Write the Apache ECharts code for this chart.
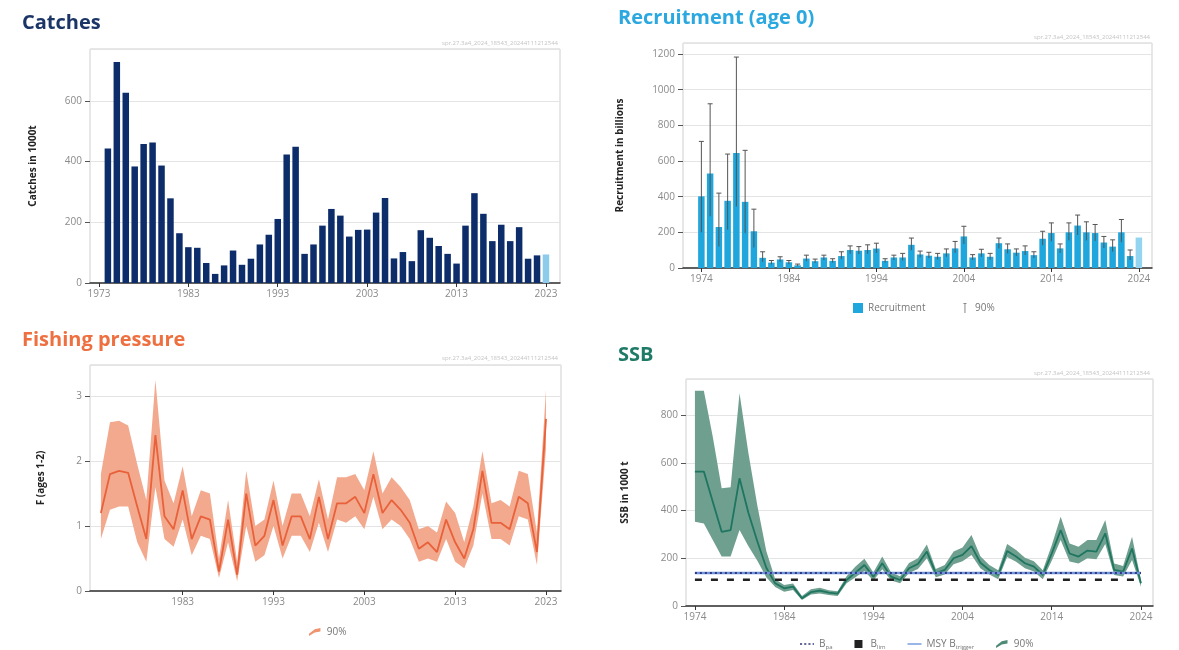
<!doctype html>
<html lang="en">
  <head>
    <meta charset="utf-8">
    <title>Sprat stock summary</title>
    <script src="https://cdn.jsdelivr.net/npm/echarts@6/dist/echarts.min.js"></script>
    <style>
      html, body {
        width: 100%;
        height: 100%;
        margin: 0;
        background: #fff;
      }

      #chart {
        width: 1179px;
        height: 650px;
      }
    </style>
  </head>
  <body>
    <div id="chart"></div>
    <script>
      // years
      const years = [1974, 1975, 1976, 1977, 1978, 1979, 1980, 1981, 1982, 1983,
        1984, 1985, 1986, 1987, 1988, 1989, 1990, 1991, 1992, 1993,
        1994, 1995, 1996, 1997, 1998, 1999, 2000, 2001, 2002, 2003,
        2004, 2005, 2006, 2007, 2008, 2009, 2010, 2011, 2012, 2013,
        2014, 2015, 2016, 2017, 2018, 2019, 2020, 2021, 2022, 2023, 2024];

      // catches in 1000 t, 1974-2023
      const catches = [443, 728, 627, 384, 458, 463, 387, 279, 164, 118,
        116, 66, 30, 58, 107, 60, 80, 127, 159, 211,
        423, 449, 96, 127, 189, 244, 222, 153, 175, 176,
        232, 280, 81, 102, 72, 174, 149, 122, 96, 64,
        189, 296, 228, 138, 192, 138, 184, 80, 91, 94];

      // recruitment in billions, 1974-2024 (90% interval up to 2023)
      const recruitment = [402, 530, 230, 377, 645, 371, 206, 57, 30, 48,
        32, 15, 53, 38, 59, 40, 67, 101, 97, 101,
        109, 40, 59, 59, 130, 76, 69, 63, 82, 110,
        177, 59, 82, 63, 139, 105, 86, 95, 72, 164,
        196, 110, 200, 238, 200, 196, 143, 120, 200, 67, 171];
      const recLow = [200, 290, 120, 215, 345, 196, 115, 35, 20, 35,
        22, 10, 38, 28, 45, 30, 50, 80, 78, 80,
        85, 30, 45, 42, 100, 60, 55, 48, 63, 85,
        135, 45, 63, 48, 110, 82, 68, 73, 56, 128,
        150, 85, 155, 185, 155, 152, 112, 92, 145, 45];
      const recHigh = [710, 921, 420, 639, 1183, 660, 330, 91, 42, 63,
        42, 22, 72, 50, 72, 52, 91, 124, 120, 130,
        139, 52, 72, 82, 168, 95, 88, 82, 107, 149,
        234, 75, 105, 82, 168, 135, 107, 124, 91, 206,
        253, 135, 253, 297, 259, 244, 177, 158, 272, 101];

      // fishing mortality F (ages 1-2), 1974-2023
      const fMean = [1.2, 1.8, 1.85, 1.82, 1.3, 0.8, 2.4, 1.15, 0.95, 1.55,
        0.8, 1.15, 1.1, 0.3, 1.1, 0.25, 1.5, 0.7, 0.85, 1.4,
        0.7, 1.15, 1.15, 0.8, 1.45, 0.8, 1.35, 1.35, 1.45, 1.2,
        1.8, 1.2, 1.4, 1.25, 1.05, 0.65, 0.75, 0.6, 1.1, 0.75,
        0.5, 0.95, 1.85, 1.05, 1.05, 0.95, 1.45, 1.35, 0.6, 2.65];
      const fLow = [0.8, 1.25, 1.3, 1.3, 0.75, 0.45, 1.6, 0.8, 0.68, 1.1,
        0.55, 0.85, 0.8, 0.2, 0.75, 0.15, 1.0, 0.45, 0.55, 1.0,
        0.5, 0.85, 0.85, 0.6, 1.05, 0.6, 1.1, 1.05, 1.15, 0.95,
        1.45, 0.95, 1.1, 1.0, 0.8, 0.45, 0.5, 0.45, 0.8, 0.45,
        0.35, 0.7, 1.5, 0.8, 0.8, 0.7, 1.15, 1.1, 0.4, 2.2];
      const fHigh = [1.8, 2.6, 2.62, 2.55, 1.95, 1.4, 3.25, 1.7, 1.35, 1.92,
        1.15, 1.55, 1.5, 0.5, 1.4, 0.45, 1.85, 1.0, 1.1, 1.7,
        1.0, 1.5, 1.5, 1.15, 1.72, 1.1, 1.75, 1.75, 1.8, 1.55,
        2.15, 1.5, 1.75, 1.6, 1.4, 0.95, 1.0, 0.9, 1.38, 1.2,
        0.75, 1.3, 2.15, 1.35, 1.4, 1.3, 1.85, 1.8, 0.9, 3.1];

      // spawning stock biomass in 1000 t, 1974-2024
      const ssb = [563, 563, 437, 311, 318, 535, 390, 270, 160, 95,
        74, 81, 32, 58, 64, 56, 52, 109, 140, 172,
        123, 179, 123, 109, 158, 176, 228, 137, 151, 200,
        214, 251, 181, 151, 130, 230, 207, 179, 165, 130,
        220, 318, 220, 207, 232, 228, 304, 151, 144, 241, 95];
      const ssbLow = [353, 346, 276, 207, 207, 318, 250, 190, 120, 80,
        60, 67, 25, 48, 52, 46, 42, 95, 120, 147,
        107, 154, 107, 95, 138, 155, 200, 120, 132, 175,
        188, 214, 158, 132, 112, 205, 185, 158, 145, 112,
        190, 276, 186, 178, 200, 196, 260, 130, 124, 193, 81];
      const ssbHigh = [902, 902, 709, 493, 497, 891, 640, 420, 230, 112,
        88, 94, 42, 70, 76, 66, 62, 125, 165, 198,
        140, 207, 140, 125, 180, 200, 258, 155, 172, 228,
        245, 297, 208, 172, 150, 260, 235, 202, 188, 150,
        255, 374, 262, 248, 276, 276, 360, 178, 168, 290, 109];

      // reference points
      const bpa = 138;
      const blim = 110;
      const msyBtrigger = 138;

      // tick labels
      const catchTicks = [1973, 1983, 1993, 2003, 2013, 2023];
      const recTicks = [1974, 1984, 1994, 2004, 2014, 2024];
      const fTicks = [1983, 1993, 2003, 2013, 2023];
      const ssbTicks = [1974, 1984, 1994, 2004, 2014, 2024];

      const FONT = '"Open Sans", "Noto Sans", sans-serif';
      const STAMP = 'spr.27.3a4_2024_18543_20244111212544';
      const BAND_ICON = 'path://M0,14 L10,6 L20,4 L20,10 L10,12 L0,18 Z';

      let chartDom = document.getElementById('chart');
      let chart = echarts.init(chartDom, null, {renderer: 'canvas'});

      function xAxisFor(gridIndex, min, max, ticks) {
        return {
          type: 'value',
          gridIndex: gridIndex,
          min: min,
          max: max,
          axisLine: {show: true, lineStyle: {color: '#333', width: 1.5}},
          axisTick: {show: true, customValues: ticks, length: 4, lineStyle: {color: '#333'}},
          axisLabel: {
            customValues: ticks,
            color: '#8a8a8a',
            fontSize: 10,
            fontFamily: FONT,
            margin: 6,
            formatter: (v) => String(v)
          },
          splitLine: {show: false}
        };
      }

      function yAxisFor(gridIndex, name, max, interval, nameGap) {
        return {
          type: 'value',
          gridIndex: gridIndex,
          min: 0,
          max: max,
          interval: interval,
          name: name,
          nameLocation: 'middle',
          nameGap: nameGap,
          nameTextStyle: {fontWeight: 'bold', fontSize: 10, color: '#222', fontFamily: FONT},
          axisLine: {show: false},
          axisTick: {show: true, length: 5, lineStyle: {color: '#555'}},
          axisLabel: {
            showMaxLabel: false,
            color: '#8a8a8a',
            fontSize: 10,
            fontFamily: FONT,
            margin: 8,
            formatter: (v) => String(v)
          },
          splitLine: {lineStyle: {color: '#e4e4e4'}}
        };
      }

      function stamp(right, top) {
        return {
          type: 'text',
          right: right,
          top: top,
          style: {text: STAMP, fill: '#c4c4c4', font: '6px ' + FONT}
        };
      }

      function title(text, left, top, color) {
        return {
          text: text,
          left: left,
          top: top,
          textStyle: {color: color, fontSize: 20, fontWeight: 'bold', fontFamily: FONT}
        };
      }

      // one polygon spanning the whole interval, drawn through the axes
      function bandSeries(name, axisIndex, xs, lo, hi, color) {
        return {
          type: 'custom',
          name: name,
          xAxisIndex: axisIndex,
          yAxisIndex: axisIndex,
          silent: true,
          z: 2,
          itemStyle: {color: color},
          data: [[xs[0], lo[0]]],
          renderItem: (params, api) => {
            const upper = xs.map((x, i) => api.coord([x, hi[i]]));
            const lower = xs.map((x, i) => api.coord([x, lo[i]])).reverse();
            return {
              type: 'polygon',
              shape: {points: upper.concat(lower)},
              style: {fill: color}
            };
          }
        };
      }

      const catchYears = years.slice(0, catches.length);
      const fYears = years.slice(0, fMean.length);

      const errorRows = recHigh.map((h, i) => [years[i], recLow[i], h]);

      const gridStyle = {show: true, borderColor: '#cfcfcf', borderWidth: 1, backgroundColor: '#fff'};

      let option = {
        animation: false,
        backgroundColor: '#fff',
        textStyle: {fontFamily: FONT},
        title: [
          title('Catches', 17, 8, '#1b3567'),
          title('Recruitment (age 0)', 613, 3, '#2aa8df'),
          title('Fishing pressure', 17, 325, '#ee6f3f'),
          title('SSB', 613, 340, '#1f7a67')
        ],
        graphic: [
          stamp(1179 - 558, 40),
          stamp(1179 - 1150, 34),
          stamp(1179 - 558, 355),
          stamp(1179 - 1150, 370)
        ],
        grid: [
          Object.assign({left: 90, top: 49, width: 470, height: 234}, gridStyle),
          Object.assign({left: 683, top: 43, width: 469, height: 225}, gridStyle),
          Object.assign({left: 90, top: 365, width: 471, height: 226}, gridStyle),
          Object.assign({left: 686, top: 379, width: 467, height: 227}, gridStyle)
        ],
        xAxis: [
          xAxisFor(0, 1972, 2024.57, catchTicks),
          xAxisFor(1, 1971.9, 2025.5, recTicks),
          xAxisFor(2, 1972.8, 2024.65, fTicks),
          xAxisFor(3, 1973, 2025.35, ssbTicks)
        ],
        yAxis: [
          yAxisFor(0, 'Catches in 1000t', 771, 200, 52),
          yAxisFor(1, 'Recruitment in billions', 1262, 200, 58),
          yAxisFor(2, 'F (ages 1-2)', 3.48, 1, 44),
          yAxisFor(3, 'SSB in 1000 t', 951, 200, 56)
        ],
        legend: [
          {
            left: 848,
            top: 298,
            itemGap: 38,
            itemWidth: 10,
            itemHeight: 10,
            textStyle: {color: '#777', fontSize: 10, fontFamily: FONT},
            formatter: (name) => name === 'R 90%' ? '90%' : name,
            data: [
              {name: 'Recruitment', icon: 'rect'},
              {name: 'R 90%', icon: 'path://M4,0h2v20h-2z M2,0h6v2h-6z', itemStyle: {color: '#888'}}
            ]
          },
          {
            left: 304,
            top: 622,
            itemWidth: 14,
            itemHeight: 8,
            textStyle: {color: '#777', fontSize: 10, fontFamily: FONT},
            formatter: () => '90%',
            data: [
              {name: 'F 90%', icon: BAND_ICON, itemStyle: {color: '#f0936f'}}
            ]
          },
          {
            left: 795,
            top: 634,
            itemGap: 22,
            itemWidth: 14,
            itemHeight: 8,
            textStyle: {
              color: '#777',
              fontSize: 10,
              fontFamily: FONT,
              rich: {s: {fontSize: 6, color: '#777', padding: [6, 0, 0, 0]}}
            },
            formatter: (name) => {
              if (name === 'Bpa') return 'B{s|pa}';
              if (name === 'Blim') return 'B{s|lim}';
              if (name === 'MSY Btrigger') return 'MSY B{s|trigger}';
              return '90%';
            },
            data: [
              {name: 'Bpa', icon: 'path://M0,4h3v2h-3z M6,4h3v2h-3z M12,4h3v2h-3z M18,4h2v2h-2z', itemStyle: {color: '#34397e'}},
              {name: 'Blim', icon: 'path://M7,2h6v6h-6z', itemStyle: {color: '#222'}},
              {name: 'MSY Btrigger', icon: 'path://M0,4h20v2h-20z', itemStyle: {color: '#6f95de'}},
              {name: 'SSB 90%', icon: BAND_ICON, itemStyle: {color: '#4f8a76'}}
            ]
          }
        ],
        series: [
          // catches
          {
            type: 'bar',
            name: 'Catches',
            xAxisIndex: 0,
            yAxisIndex: 0,
            barWidth: 6.5,
            itemStyle: {color: '#0c2d69'},
            data: catchYears.map((y, i) => ({
              value: [y, catches[i]],
              itemStyle: i === catches.length - 1 ? {color: '#8dcbea'} : undefined
            }))
          },
          // recruitment
          {
            type: 'bar',
            name: 'Recruitment',
            xAxisIndex: 1,
            yAxisIndex: 1,
            barWidth: 6.5,
            itemStyle: {color: '#1fa6dc'},
            data: years.map((y, i) => ({
              value: [y, recruitment[i]],
              itemStyle: i === recruitment.length - 1 ? {color: '#93d5f1'} : undefined
            }))
          },
          {
            type: 'custom',
            name: 'R 90%',
            xAxisIndex: 1,
            yAxisIndex: 1,
            z: 5,
            itemStyle: {color: '#888'},
            encode: {x: 0, y: [1, 2]},
            data: errorRows,
            renderItem: (params, api) => {
              const x = api.value(0);
              const lo = api.coord([x, api.value(1)]);
              const hi = api.coord([x, api.value(2)]);
              const style = {stroke: '#555', lineWidth: 1};
              return {
                type: 'group',
                children: [
                  {type: 'line', shape: {x1: lo[0], y1: lo[1], x2: hi[0], y2: hi[1]}, style: style},
                  {type: 'line', shape: {x1: hi[0] - 2.5, y1: hi[1], x2: hi[0] + 2.5, y2: hi[1]}, style: style}
                ]
              };
            }
          },
          // fishing pressure
          bandSeries('F 90%', 2, fYears, fLow, fHigh, '#f3a98e'),
          {
            type: 'line',
            name: 'F',
            xAxisIndex: 2,
            yAxisIndex: 2,
            symbol: 'none',
            z: 4,
            lineStyle: {color: '#e8613a', width: 1.8},
            data: fYears.map((y, i) => [y, fMean[i]])
          },
          // SSB
          bandSeries('SSB 90%', 3, years, ssbLow, ssbHigh, '#6f9f8f'),
          {
            type: 'line',
            name: 'SSB',
            xAxisIndex: 3,
            yAxisIndex: 3,
            symbol: 'none',
            z: 4,
            lineStyle: {color: '#1e7560', width: 1.8},
            data: years.map((y, i) => [y, ssb[i]])
          },
          {
            type: 'line',
            name: 'MSY Btrigger',
            xAxisIndex: 3,
            yAxisIndex: 3,
            symbol: 'none',
            z: 5,
            itemStyle: {color: '#6f95de'},
            lineStyle: {color: '#6f95de', width: 2.5},
            data: [[years[0], msyBtrigger], [years[years.length - 1], msyBtrigger]]
          },
          {
            type: 'line',
            name: 'Bpa',
            xAxisIndex: 3,
            yAxisIndex: 3,
            symbol: 'none',
            z: 6,
            itemStyle: {color: '#34397e'},
            lineStyle: {color: '#34397e', width: 2, type: [2, 3]},
            data: [[years[0], bpa], [years[years.length - 1], bpa]]
          },
          {
            type: 'line',
            name: 'Blim',
            xAxisIndex: 3,
            yAxisIndex: 3,
            symbol: 'none',
            z: 6,
            itemStyle: {color: '#222'},
            lineStyle: {color: '#222', width: 2.5, type: [7, 9]},
            data: [[years[0], blim], [years[years.length - 1], blim]]
          }
        ]
      };

      chart.setOption(option);
    </script>
  </body>
</html>
